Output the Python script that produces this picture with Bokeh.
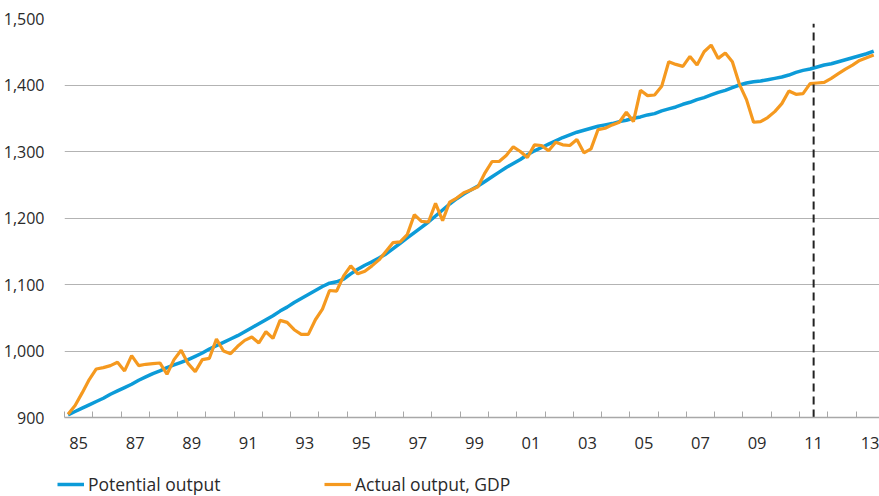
from bokeh.plotting import figure
from bokeh.layouts import column
from bokeh.models import (Range1d, FixedTicker, Legend, LegendItem, NumeralTickFormatter)
from bokeh.embed import file_html
from bokeh.resources import INLINE

# ---------------- data (quarterly, 1985Q1 .. 2013Q3) ----------------
START_YEAR = 1985
potential_output = [
    904, 909, 914, 919, 924, 929, 935, 940, 945, 950,
    956, 961, 966, 970, 975, 979, 983, 987, 992, 997,
    1003, 1008, 1013, 1018, 1023, 1029, 1035, 1041, 1047, 1053,
    1060, 1066, 1073, 1079, 1085, 1091, 1097, 1102, 1104, 1108,
    1116, 1123, 1129, 1134, 1140, 1146, 1154, 1162, 1170, 1178,
    1186, 1194, 1203, 1212, 1221, 1229, 1236, 1242, 1248, 1255,
    1262, 1269, 1276, 1282, 1288, 1295, 1301, 1306, 1311, 1316,
    1321, 1325, 1329, 1332, 1335, 1338, 1340, 1342, 1345, 1347,
    1350, 1352, 1355, 1357, 1361, 1364, 1367, 1371, 1374, 1378,
    1381, 1385, 1389, 1392, 1396, 1400, 1403, 1405, 1406, 1408,
    1410, 1412, 1415, 1419, 1422, 1424, 1427, 1430, 1432, 1435,
    1438, 1441, 1444, 1447, 1451,
]
actual_gdp = [
    905, 918, 937, 957, 973, 975, 978, 983, 970, 993,
    978, 980, 981, 982, 965, 987, 1001, 981, 969, 987,
    989, 1018, 1000, 996, 1007, 1016, 1021, 1012, 1029, 1019,
    1046, 1043, 1032, 1025, 1025, 1047, 1063, 1091, 1090, 1113,
    1128, 1116, 1120, 1128, 1137, 1150, 1163, 1164, 1175, 1205,
    1195, 1194, 1222, 1196, 1224, 1230, 1238, 1242, 1247, 1268,
    1285, 1285, 1294, 1307, 1300, 1291, 1310, 1309, 1301, 1314,
    1310, 1309, 1318, 1298, 1304, 1333, 1335, 1340, 1344, 1359,
    1345, 1392, 1384, 1385, 1398, 1435, 1431, 1428, 1443, 1430,
    1450, 1460, 1440, 1448, 1435, 1401, 1378, 1344, 1345, 1351,
    1360, 1372, 1391, 1386, 1387, 1402, 1403, 1404, 1410, 1417,
    1424, 1430, 1437, 1441, 1445,
]
quarters = [START_YEAR + (i + 0.5) / 4 for i in range(len(actual_gdp))]

year_ticks = list(range(1985, 2014))
label_years = list(range(1985, 2014, 2))
label_texts = ["%02d" % (y % 100) for y in label_years]
y_ticks = [900, 1000, 1100, 1200, 1300, 1400, 1500]
forecast_line_x = 2011.5
forecast_line_top = 1492
series_names = ["Potential output", "Actual output, GDP"]

BLUE = "#0C9BD8"
ORANGE = "#F5991F"
FONT = "Open Sans"
TEXT = "#2a2a2a"

p = figure(width=879, height=460, output_backend="svg", toolbar_location=None,
           x_range=Range1d(1985, 2013.83), y_range=Range1d(900, 1500),
           min_border=0, min_border_left=63, min_border_right=0, min_border_top=18,
           min_border_bottom=43)
p.outline_line_color = None
p.background_fill_color = "white"

p.line(quarters, potential_output, line_color=BLUE, line_width=3.5)
p.line(quarters, actual_gdp, line_color=ORANGE, line_width=3.2)
p.segment(x0=[forecast_line_x], y0=[900], x1=[forecast_line_x], y1=[forecast_line_top],
          line_color="#222222", line_width=2, line_dash="8 5")

# x axis: labels mid-year, tick marks at year boundaries
xt = FixedTicker(ticks=[y + 0.5 for y in label_years], minor_ticks=year_ticks)
p.xaxis.ticker = xt
p.xaxis.major_label_overrides = {y + 0.5: t for y, t in zip(label_years, label_texts)}
p.xaxis.major_tick_line_color = None
p.xaxis.minor_tick_in = 6
p.xaxis.minor_tick_out = 0
p.xaxis.minor_tick_line_color = "#a8a8a8"
p.xaxis.axis_line_color = "#a8a8a8"
p.xaxis.axis_line_width = 1.5
p.xaxis.major_label_text_font = FONT
p.xaxis.major_label_text_font_size = "16.5px"
p.xaxis.major_label_text_color = TEXT
p.xaxis.major_label_standoff = 13
p.xgrid.grid_line_color = None

p.yaxis.ticker = FixedTicker(ticks=y_ticks)
p.yaxis.formatter = NumeralTickFormatter(format="0,0")
p.yaxis.axis_line_color = None
p.yaxis.major_tick_line_color = None
p.yaxis.minor_tick_line_color = None
p.yaxis.major_label_text_font = FONT
p.yaxis.major_label_text_font_size = "16px"
p.yaxis.major_label_text_color = TEXT
p.yaxis.major_label_standoff = 14
p.ygrid.ticker = FixedTicker(ticks=y_ticks[1:])
p.ygrid.grid_line_color = "#b3b3b3"
p.ygrid.grid_line_width = 1.2

# legend in its own strip below the chart; its entries point at the same series
lf = figure(width=879, height=36, output_backend="svg", toolbar_location=None,
            x_range=Range1d(0, 1), y_range=Range1d(0, 1), min_border=0,
            min_border_left=0, min_border_right=0, min_border_top=0, min_border_bottom=0,
            x_axis_location=None, y_axis_location=None, frame_align=False)
lf.outline_line_color = None
lf.grid.visible = False
r1 = lf.line(quarters, potential_output, line_color=BLUE, line_width=3.5)
r2 = lf.line(quarters, actual_gdp, line_color=ORANGE, line_width=3.2)
legend = Legend(items=[LegendItem(label=series_names[0], renderers=[r1]),
                       LegendItem(label=series_names[1], renderers=[r2])],
                orientation="horizontal", location=(57, 0),
                glyph_width=27, glyph_height=18, label_standoff=4, label_width=236,
                label_height=18,
                spacing=0, padding=0, margin=0,
                label_text_font=FONT, label_text_font_size="17.5px",
                label_text_color=TEXT, border_line_color=None,
                background_fill_alpha=0)
lf.add_layout(legend, "center")

open("out.html", "w").write(file_html(column(p, lf, spacing=0), INLINE))
